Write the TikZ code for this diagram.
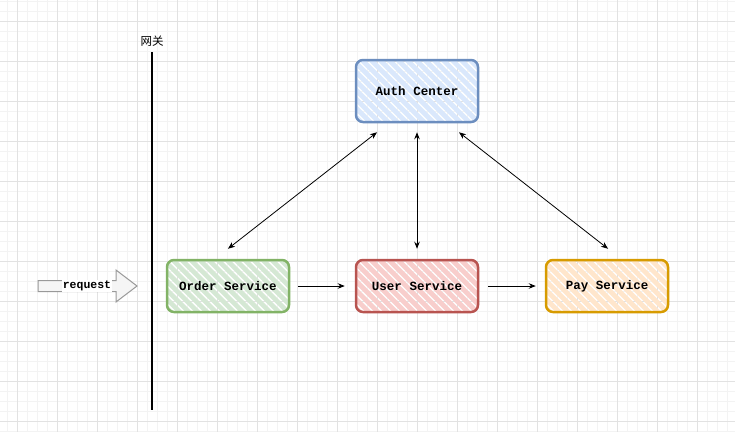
\documentclass[tikz,border=0pt]{standalone}
\usepackage{fontspec}
\setmonofont{Liberation Mono}
\newfontfamily\cjk{Noto Sans CJK SC}
\usetikzlibrary{arrows.meta,calc}
\definecolor{gridmin}{HTML}{F3F3F3}
\definecolor{gridmaj}{HTML}{E2E2E2}
\definecolor{bluefill}{HTML}{DAE8FC}\definecolor{bluedraw}{HTML}{6C8EBF}
\definecolor{greenfill}{HTML}{D5E8D4}\definecolor{greendraw}{HTML}{82B366}
\definecolor{redfill}{HTML}{F8CECC}\definecolor{reddraw}{HTML}{B85450}
\definecolor{orangefill}{HTML}{FFE6CC}\definecolor{orangedraw}{HTML}{D79B00}
\definecolor{reqfill}{HTML}{F5F5F5}\definecolor{reqdraw}{HTML}{999999}
\tikzset{
  svc/.style n args={2}{rounded corners=7pt, line width=2.5pt, draw=#2,
    minimum width=122pt, minimum height=52pt, inner sep=0pt,
    font=\ttfamily\bfseries\fontsize{12.5}{14}\selectfont,
    path picture={
      \foreach \i in {-80,-71,...,140}
        \draw[#1, line width=4.6pt]
          ([xshift=\i pt, yshift=5pt]path picture bounding box.north west) -- ++(80pt,-80pt);
    }},
  conn/.style={draw=black, line width=0.8pt, -{Stealth[length=7pt,width=5.5pt]}},
  biconn/.style={draw=black, line width=0.8pt, {Stealth[length=7pt,width=5.5pt]}-{Stealth[length=7pt,width=5.5pt]}},
  reqarrow/.style={draw=reqdraw, fill=reqfill, line width=1pt},
}
\begin{document}
\begin{tikzpicture}[x=1pt,y=-1pt]
\useasboundingbox (0,0) rectangle (735,432);
\fill[white] (0,0) rectangle (735,432);
% grid
\foreach \x in {7,17,...,735} \draw[gridmin, line width=0.8pt] (\x,0) -- (\x,432);
\foreach \y in {1,11,...,432} \draw[gridmin, line width=0.8pt] (0,\y) -- (735,\y);
\foreach \x in {17,57,...,735} \draw[gridmaj, line width=0.8pt] (\x,0) -- (\x,432);
\foreach \y in {21,61,...,432} \draw[gridmaj, line width=0.8pt] (0,\y) -- (735,\y);
% gateway
\coordinate (gtop) at (152,52);
\coordinate (gbot) at (152,410);
\draw[black, line width=2.6pt] (gtop) -- (gbot);
\node[font=\cjk\fontsize{11.5}{13}\selectfont, anchor=south, inner sep=1pt] (gwlabel) at (152,48) {网关};
% services
\node[svc={bluefill}{bluedraw}, minimum height=62pt] (auth) at (417,91) {Auth Center};
\node[svc={greenfill}{greendraw}] (order) at (228,286) {Order Service};
\node[svc={redfill}{reddraw}] (user) at (417,286) {User Service};
\node[svc={orangefill}{orangedraw}] (pay) at (607,286) {Pay Service};
% request arrow
\draw[reqarrow] (38,280.5) -- (116,280.5) -- (116,270) -- (137,286) -- (116,302) -- (116,291.5) -- (38,291.5) -- cycle;
\node[fill=white, inner sep=0.5pt, font=\ttfamily\bfseries\fontsize{11.5}{13}\selectfont] (req) at (87,286) {request};
% connectors
\draw[conn] ($(order.east)+(8,0)$) -- ($(user.west)+(-10,0)$);
\draw[conn] ($(user.east)+(9,0)$) -- ($(pay.west)+(-9,0)$);
\draw[biconn] ($(auth.south)+(-40,9)$) -- ($(order.north)+(0,-10)$);
\draw[biconn] ($(auth.south)+(0,9)$) -- ($(user.north)+(0,-10)$);
\draw[biconn] ($(auth.south)+(42,9)$) -- ($(pay.north)+(1,-10)$);
\end{tikzpicture}
\end{document}
